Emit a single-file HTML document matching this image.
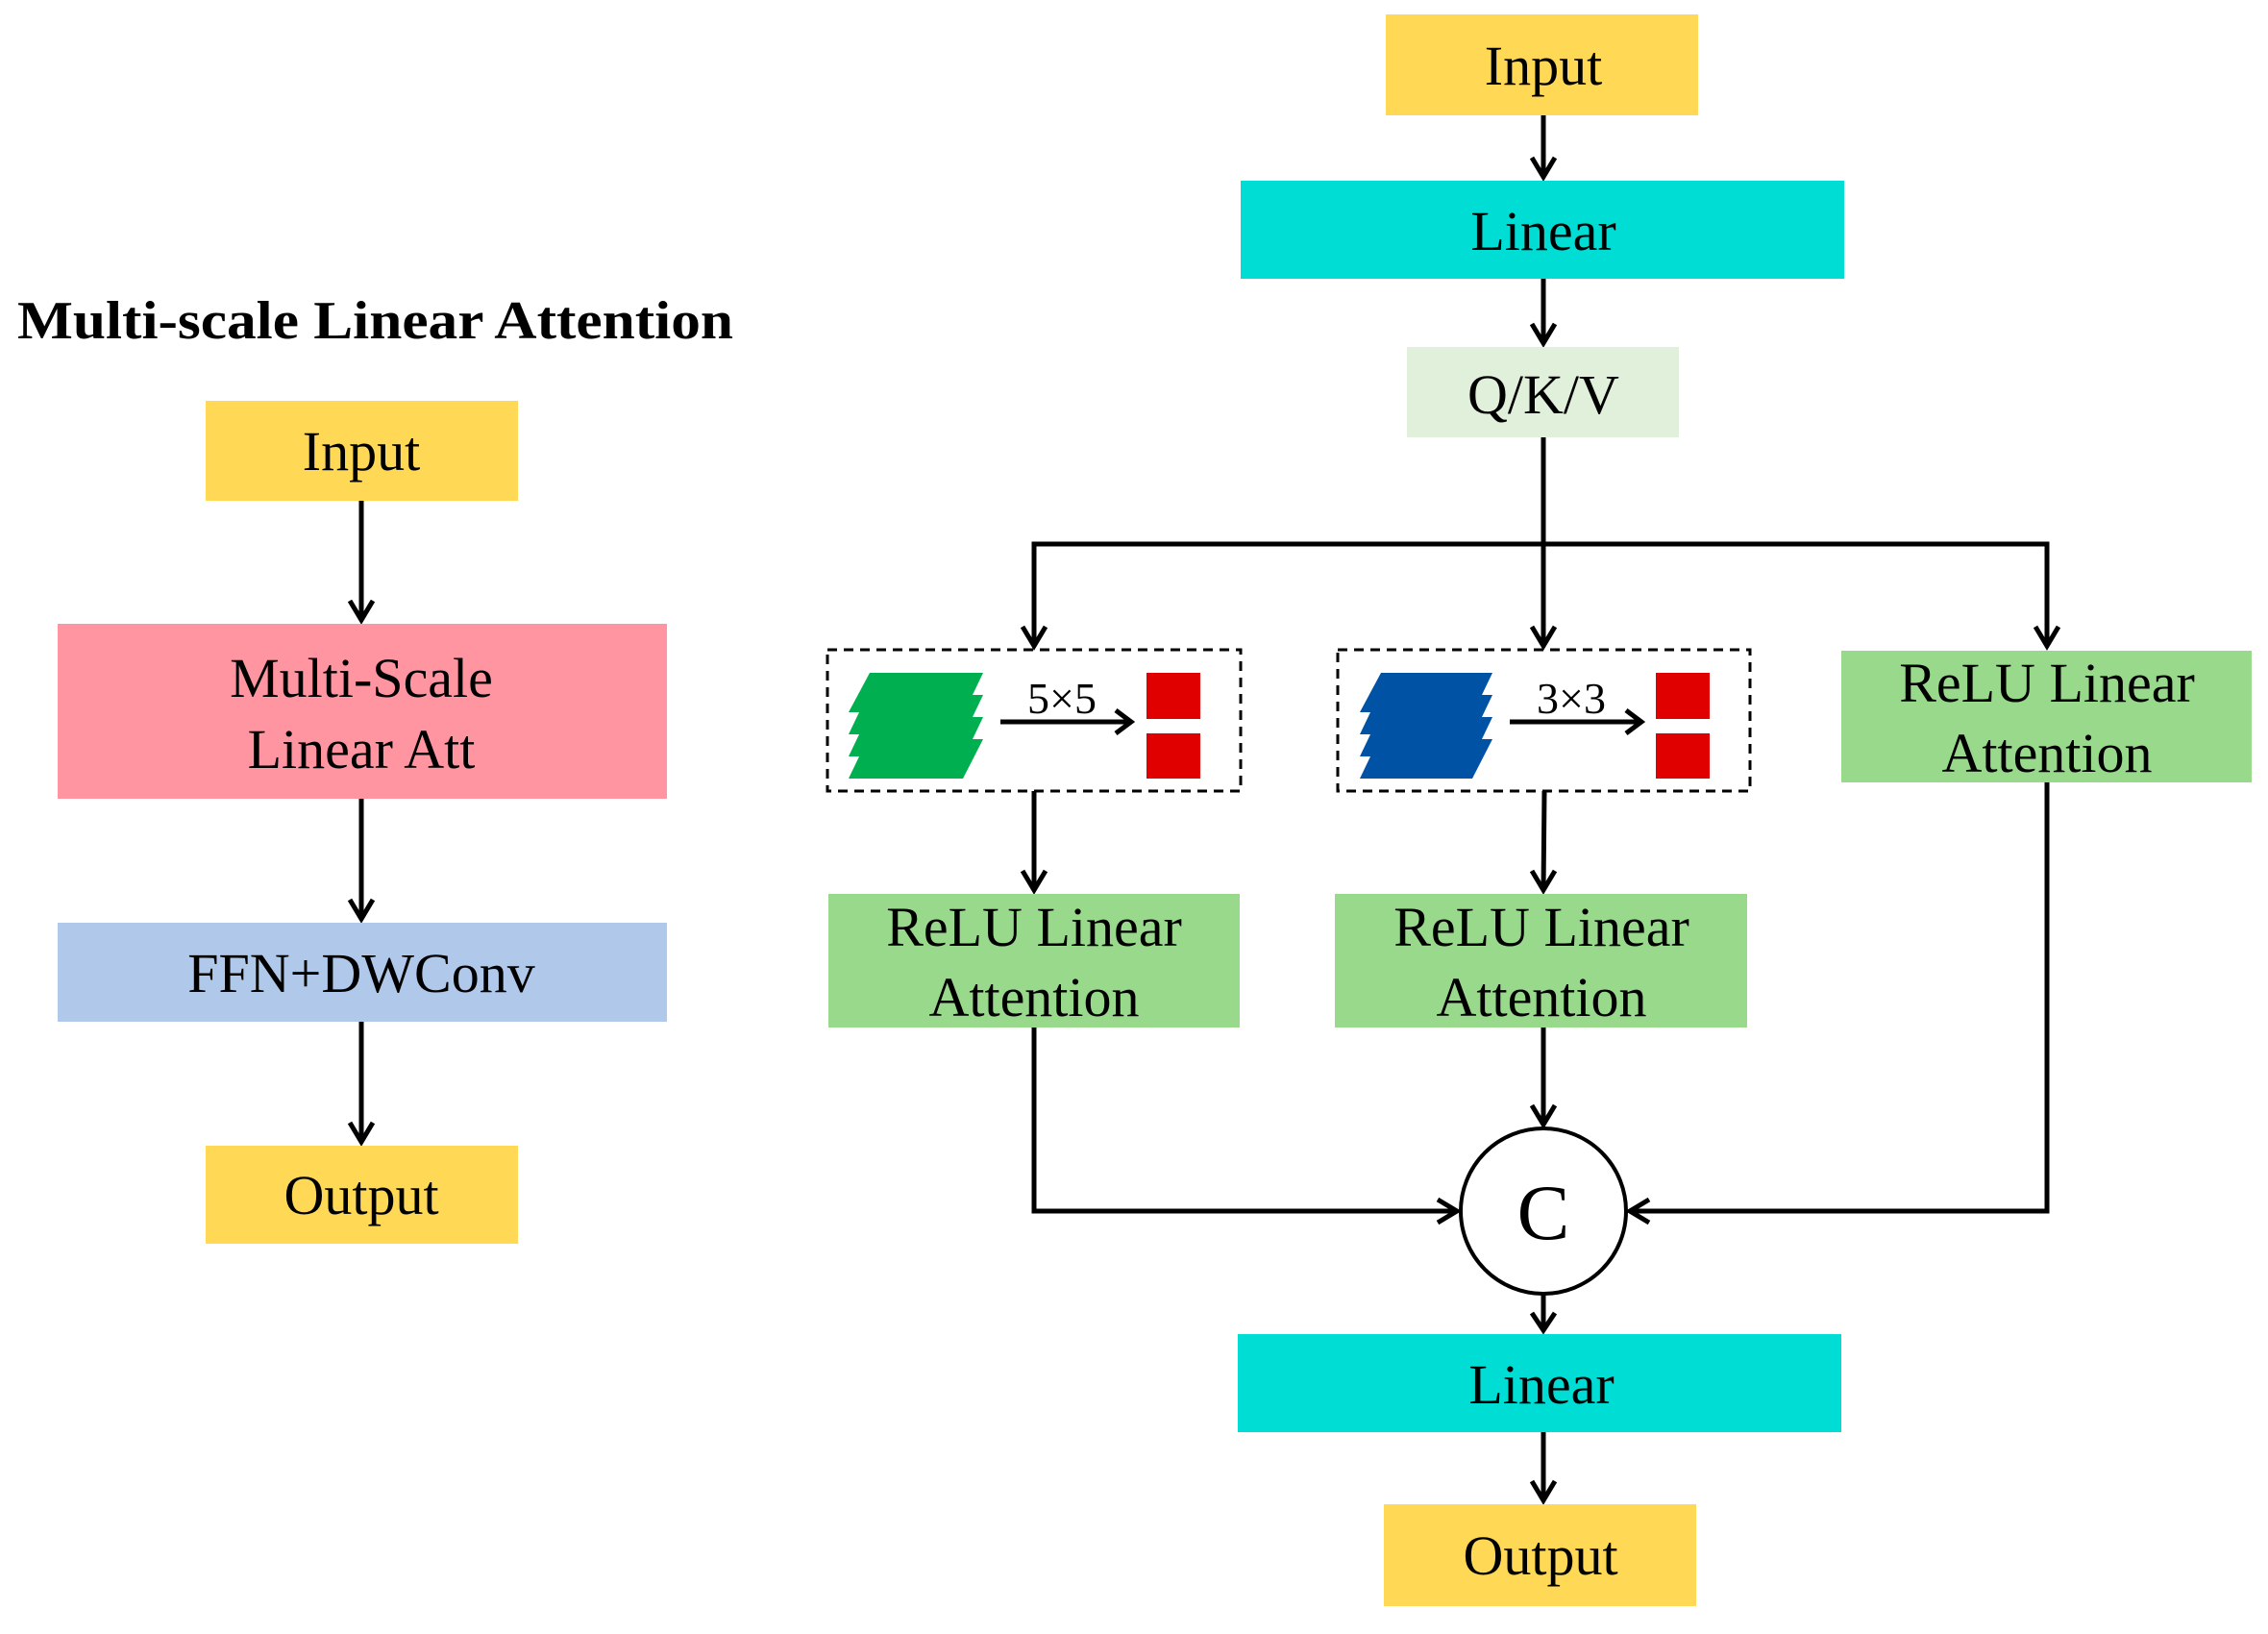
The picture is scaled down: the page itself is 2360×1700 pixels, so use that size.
<!DOCTYPE html>
<html><head><meta charset="utf-8"><style>
html,body{margin:0;padding:0;background:#fff}
svg{display:block}
text{font-family:"Liberation Serif",serif;fill:#000}
</style></head><body>
<svg width="2360" height="1700" viewBox="0 0 2360 1700" xmlns="http://www.w3.org/2000/svg">
<g stroke="#000" stroke-width="5" fill="none">
<line x1="376" y1="521" x2="376" y2="645"/>
<polyline points="364,625 376,645 388,625"/>
<line x1="376" y1="831" x2="376" y2="956"/>
<polyline points="364,936 376,956 388,936"/>
<line x1="376" y1="1063" x2="376" y2="1188"/>
<polyline points="364,1168 376,1188 388,1168"/>
<line x1="1606" y1="120" x2="1606" y2="184"/>
<polyline points="1594,164 1606,184 1618,164"/>
<line x1="1606" y1="290" x2="1606" y2="357"/>
<polyline points="1594,337 1606,357 1618,337"/>
<line x1="1606" y1="455" x2="1606" y2="672"/>
<polyline points="1594,652 1606,672 1618,652"/>
<polyline points="1076,672 1076,566 2130,566 2130,672"/>
<polyline points="1064,652 1076,672 1088,652"/>
<polyline points="2118,652 2130,672 2142,652"/>
<line x1="1076" y1="823" x2="1076" y2="926"/>
<polyline points="1064,906 1076,926 1088,906"/>
<line x1="1607" y1="823" x2="1606" y2="926"/>
<polyline points="1594,906 1606,926 1618,906"/>
<line x1="1606" y1="1069" x2="1606" y2="1170"/>
<polyline points="1594,1150 1606,1170 1618,1150"/>
<polyline points="1076,1069 1076,1260 1516,1260"/>
<polyline points="1496,1248 1516,1260 1496,1272"/>
<polyline points="2130,814 2130,1260 1696,1260"/>
<polyline points="1716,1248 1696,1260 1716,1272"/>
<line x1="1606" y1="1346" x2="1606" y2="1384"/>
<polyline points="1594,1366 1606,1384 1618,1366"/>
<line x1="1606" y1="1490" x2="1606" y2="1561"/>
<polyline points="1594,1541 1606,1561 1618,1541"/>
<line x1="1041" y1="751" x2="1175" y2="751"/>
<polyline points="1161,739 1177,751 1161,763"/>
<line x1="1571" y1="751" x2="1706" y2="751"/>
<polyline points="1692,739 1708,751 1692,763"/>
</g>
<text x="18" y="352" font-size="56" font-weight="bold" textLength="745" lengthAdjust="spacingAndGlyphs">Multi-scale Linear Attention</text>
<rect x="214" y="417" width="325" height="104" fill="#FFD955"/>
<text x="376" y="489" font-size="58" text-anchor="middle">Input</text>
<rect x="60" y="649" width="634" height="182" fill="#FF95A0"/>
<text x="376" y="725" font-size="58" text-anchor="middle">Multi-Scale</text>
<text x="376" y="799" font-size="58" text-anchor="middle">Linear Att</text>
<rect x="60" y="960" width="634" height="103" fill="#B0C8EA"/>
<text x="376" y="1032" font-size="58" text-anchor="middle">FFN+DWConv</text>
<rect x="214" y="1192" width="325" height="102" fill="#FFD955"/>
<text x="376" y="1263" font-size="58" text-anchor="middle">Output</text>
<rect x="1442" y="15" width="325" height="105" fill="#FFD955"/>
<text x="1606" y="88" font-size="58" text-anchor="middle">Input</text>
<rect x="1291" y="188" width="628" height="102" fill="#00DDD5"/>
<text x="1606" y="260" font-size="58" text-anchor="middle">Linear</text>
<rect x="1464" y="361" width="283" height="94" fill="#E0F0DA"/>
<text x="1606" y="430" font-size="58" text-anchor="middle">Q/K/V</text>
<rect x="861" y="676" width="430" height="147" fill="none" stroke="#000" stroke-width="3" stroke-dasharray="10,7"/>
<rect x="1392" y="676" width="429" height="147" fill="none" stroke="#000" stroke-width="3" stroke-dasharray="10,7"/>
<polygon points="905,700 1023,700 1012,723 1023,723 1012,746 1023,746 1012,769 1023,769 1002,810 883,810 894,787 883,787 894,764 883,764 894,741 883,741" fill="#00B050"/>
<polygon points="1437,700 1553,700 1542,723 1553,723 1542,746 1553,746 1542,769 1553,769 1532,810 1415,810 1426,787 1415,787 1426,764 1415,764 1426,741 1415,741" fill="#0052A5"/>
<text x="1105" y="742" font-size="46" text-anchor="middle">5×5</text>
<text x="1635" y="742" font-size="46" text-anchor="middle">3×3</text>
<rect x="1193" y="700" width="56" height="48" fill="#E00000"/>
<rect x="1193" y="763" width="56" height="47" fill="#E00000"/>
<rect x="1723" y="700" width="56" height="48" fill="#E00000"/>
<rect x="1723" y="763" width="56" height="47" fill="#E00000"/>
<rect x="1916" y="677" width="427" height="137" fill="#98D98C"/>
<text x="2130" y="730" font-size="58" text-anchor="middle">ReLU Linear</text>
<text x="2130" y="803" font-size="58" text-anchor="middle">Attention</text>
<rect x="862" y="930" width="428" height="139" fill="#98D98C"/>
<text x="1076" y="984" font-size="58" text-anchor="middle">ReLU Linear</text>
<text x="1076" y="1057" font-size="58" text-anchor="middle">Attention</text>
<rect x="1389" y="930" width="429" height="139" fill="#98D98C"/>
<text x="1604" y="984" font-size="58" text-anchor="middle">ReLU Linear</text>
<text x="1604" y="1057" font-size="58" text-anchor="middle">Attention</text>
<circle cx="1606" cy="1260" r="86" fill="#fff" stroke="#000" stroke-width="4"/>
<text x="1606" y="1289" font-size="82" text-anchor="middle">C</text>
<rect x="1288" y="1388" width="628" height="102" fill="#00DDD5"/>
<text x="1604" y="1460" font-size="58" text-anchor="middle">Linear</text>
<rect x="1440" y="1565" width="325" height="106" fill="#FFD955"/>
<text x="1603" y="1638" font-size="58" text-anchor="middle">Output</text>
</svg>
</body></html>
